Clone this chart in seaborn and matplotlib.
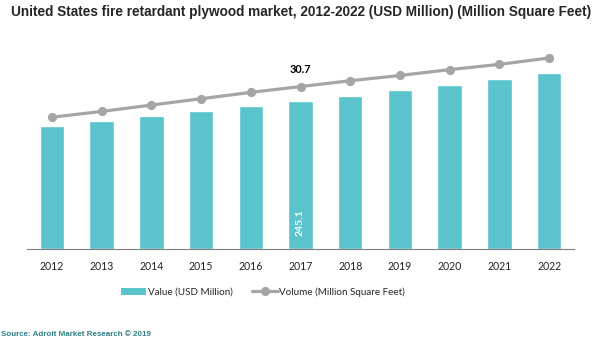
import numpy as np
import pandas as pd
import matplotlib
matplotlib.use("Agg")
import matplotlib.pyplot as plt
from matplotlib.lines import Line2D
from matplotlib.patches import Patch
import seaborn as sns

# ── data ──
years  = ["2012", "2013", "2014", "2015", "2016", "2017",
          "2018", "2019", "2020", "2021", "2022"]
value  = [203.7, 211.5, 219.8, 228.5, 236.8, 245.1,
          253.9, 262.8, 271.6, 281.0, 291.0]     # USD Million
volume = [24.9, 26.0, 27.2, 28.4, 29.6, 30.7,
          31.8, 32.8, 33.9, 34.9, 36.1]          # Million Square Feet

BAR_COL  = "#5BC3CC"
LINE_COL = "#A5A5A5"
SRC_COL  = "#2F7F86"
TICK_FONT = ["Lato", "DejaVu Sans"]

sns.set_style("white")
plt.rcParams["font.family"] = ["Liberation Sans", "DejaVu Sans"]

df = pd.DataFrame({"year": years, "value": value, "volume": volume})

fig = plt.figure(figsize=(6.02, 3.57), dpi=100)
ax = fig.add_axes([27 / 602, 1 - 249 / 357, (574 - 27) / 602, 209 / 357])

sns.barplot(data=df, x="year", y="value", color=BAR_COL, width=0.49,
            saturation=1, ax=ax, zorder=2)
ax.set_ylim(0, 346)
ax.set_xlim(-0.5, len(years) - 0.5)

ax2 = ax.twinx()
ax2.plot(range(len(years)), volume, color=LINE_COL, lw=2.3,
         marker="o", ms=5.6, zorder=3)
ax2.set_ylim(0, 39.5)
ax2.set_xlim(-0.5, len(years) - 0.5)

# only the 2017 values are labelled in the reference
i17 = years.index("2017")
ax.text(i17, 43, f"{value[i17]}", rotation=90, ha="center", va="center",
        color="white", fontsize=7.5, fontweight="bold", family=TICK_FONT)
ax2.text(i17, volume[i17] + 3.15, f"{volume[i17]}", ha="center", va="center",
         color="black", fontsize=7.8, fontweight="bold", family=TICK_FONT)

# axes cosmetics: bottom spine only, ticks between categories
for a in (ax, ax2):
    for s in ("top", "right", "left"):
        a.spines[s].set_visible(False)
    a.set_yticks([])
    a.set_ylabel("")
ax.spines["bottom"].set_color("#7F7F7F")
ax2.spines["bottom"].set_visible(False)
ax.set_xlabel("")
ax.set_xticks(range(len(years)))
ax.set_xticklabels(years, family=TICK_FONT, fontsize=7.6, color="#222222")
ax.tick_params(axis="x", which="major", length=0, pad=9)
ax.set_xticks(np.arange(-0.5, len(years), 1.0), minor=True)
ax.tick_params(axis="x", which="minor", length=4, width=1, color="#7F7F7F",
               direction="out")

# title
fig.text(0.5, 1 - 12 / 357, "United States fire retardant plywood market, "
         "2012-2022 (USD Million) (Million Square Feet)",
         ha="center", va="center", fontsize=9.8, fontweight="bold")

# legend
handles = [Patch(facecolor=BAR_COL, edgecolor="none"),
           Line2D([], [], color=LINE_COL, lw=2.3, marker="o", ms=5.6)]
fig.legend(handles, ["Value (USD Million)", "Volume (Million Square Feet)"],
           loc="center", bbox_to_anchor=(263 / 602, 1 - 292 / 357), ncol=2,
           frameon=False, prop={"family": TICK_FONT, "size": 7.1},
           handlelength=2.6, handletextpad=0.15, columnspacing=2.0)

# source
fig.text(1 / 602, 1 - 335 / 357, "Source: Adroit Market Research \u00a9 2019",
         ha="left", va="center", fontsize=5.8, fontweight="bold", color=SRC_COL)

fig.savefig("out.png", dpi=100)
